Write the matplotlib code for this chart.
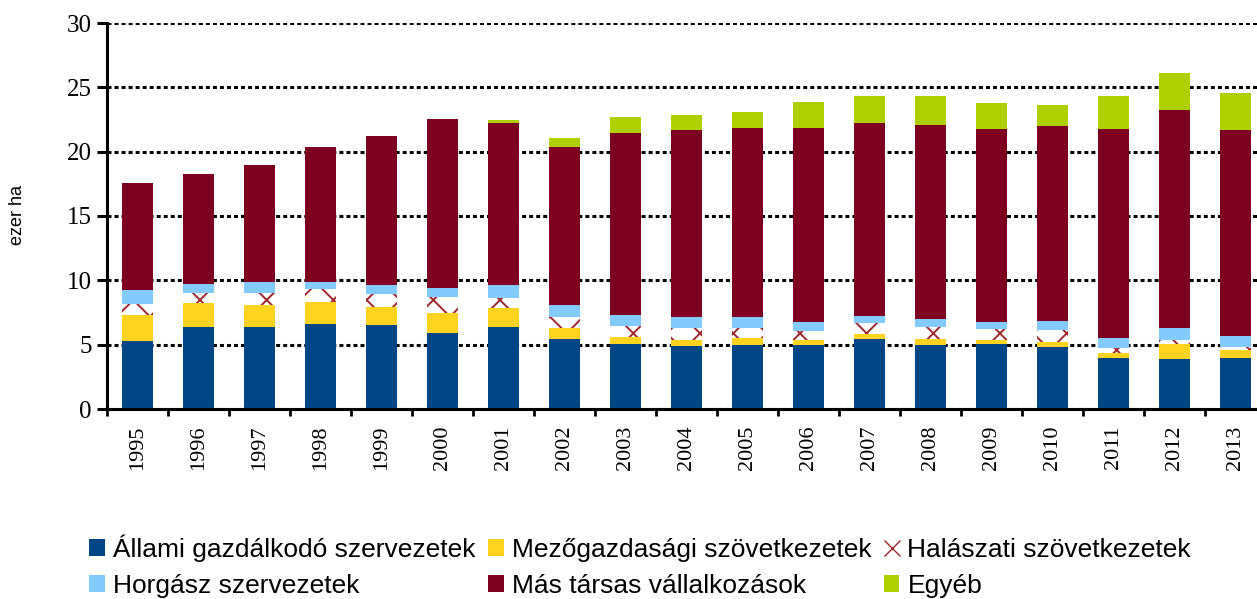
import numpy as np
import matplotlib
matplotlib.use("Agg")
import matplotlib.pyplot as plt
from matplotlib.lines import Line2D

# years on the x axis
years = [str(y) for y in range(1995, 2014)]

# component values (ezer ha)
allami = [5.3, 6.4, 6.4, 6.6, 6.5, 5.9, 6.4, 5.45, 5.05, 4.9, 5.0, 5.0, 5.45, 5.0, 5.05, 4.8, 4.0, 3.9, 4.0]
mezogazd = [2.0, 1.85, 1.7, 1.75, 1.4, 1.55, 1.45, 0.85, 0.55, 0.45, 0.5, 0.35, 0.4, 0.45, 0.3, 0.4, 0.35, 1.15, 0.6]
halaszati = [0.85, 0.75, 0.9, 0.95, 1.0, 1.25, 0.8, 0.85, 0.85, 0.95, 0.8, 0.7, 0.8, 0.95, 0.85, 0.95, 0.4, 0.3, 0.25]
horgasz = [1.1, 0.75, 0.85, 0.55, 0.7, 0.7, 0.95, 0.95, 0.85, 0.85, 0.85, 0.7, 0.6, 0.6, 0.6, 0.7, 0.8, 0.95, 0.85]
mas = [8.3, 8.55, 9.1, 10.55, 11.6, 13.15, 12.6, 12.3, 14.15, 14.55, 14.7, 15.1, 14.95, 15.1, 15.0, 15.15, 16.25, 16.95, 16.0]
egyeb = [0, 0, 0, 0, 0, 0, 0.3, 0.7, 1.25, 1.15, 1.25, 2.0, 2.1, 2.2, 2.0, 1.65, 2.55, 2.9, 2.85]

labels = ["Állami gazdálkodó szervezetek", "Mezőgazdasági szövetkezetek", "Halászati szövetkezetek",
          "Horgász szervezetek", "Más társas vállalkozások", "Egyéb"]
colors = ["#004586", "#ffd320", "white", "#83caff", "#7e0021", "#aecf00"]
hatch_col = "#a0282d"

plt.rcParams['hatch.linewidth'] = 1.4

fig = plt.figure(figsize=(12.57, 5.99), dpi=100)
ax = fig.add_axes([107/1257, 1-409/599, 1159/1257, 386/599])

x = np.arange(len(years))
w = 0.51
series = [allami, mezogazd, halaszati, horgasz, mas, egyeb]
bottom = np.zeros(len(years))
handles = []
for i, (vals, lab, col) in enumerate(zip(series, labels, colors)):
    vals = np.array(vals)
    if i == 2:
        b = ax.bar(x, vals, w, bottom=bottom, color="white", edgecolor=hatch_col,
                   hatch="x", linewidth=0, label=lab)
        # legend shows just a thin red cross
        b = Line2D([], [], marker="x", color=hatch_col, linestyle="none",
                   markersize=12, markeredgewidth=1.0)
    else:
        b = ax.bar(x, vals, w, bottom=bottom, color=col, linewidth=0, label=lab)
    handles.append(b)
    bottom = bottom + vals

ax.set_xlim(-0.5, len(years) - 0.5)
ax.set_ylim(0, 30)
ax.set_yticks(range(0, 31, 5))
ax.yaxis.grid(True, color="black", linestyle=(0, (1.3, 1)), linewidth=2.2)
ax.set_axisbelow(True)

for s in ["top", "right"]:
    ax.spines[s].set_visible(False)
for s in ["left", "bottom"]:
    ax.spines[s].set_linewidth(2.2)

ax.set_xticks(x)
ax.set_xticklabels(years, rotation=90, fontfamily="Liberation Serif", fontsize=16)
ax.set_xticks(np.arange(-0.5, len(years), 1), minor=True)
ax.tick_params(axis="x", which="major", length=0, pad=12)
ax.tick_params(axis="x", which="minor", length=5, width=2, direction="out")
ax.tick_params(axis="y", length=7, width=2.2, pad=4)
for t in ax.get_yticklabels():
    t.set_fontfamily("Liberation Serif")
    t.set_fontsize(18)

fig.text(17/1257, 1-215/599, "ezer ha", rotation=90, ha="center", va="center",
         fontfamily="Liberation Sans", fontsize=13)

order = [0, 3, 1, 4, 2, 5]
fig.legend([handles[i] for i in order], [labels[i] for i in order], ncol=3,
           loc="upper left", bbox_to_anchor=(76/1257, 1-521/599), frameon=False,
           prop={"family": "Liberation Sans", "size": 19},
           handlelength=0.6, handleheight=0.6, handletextpad=0.3,
           columnspacing=0.47, labelspacing=0.45, borderpad=0)

fig.savefig("out.png", dpi=100)
